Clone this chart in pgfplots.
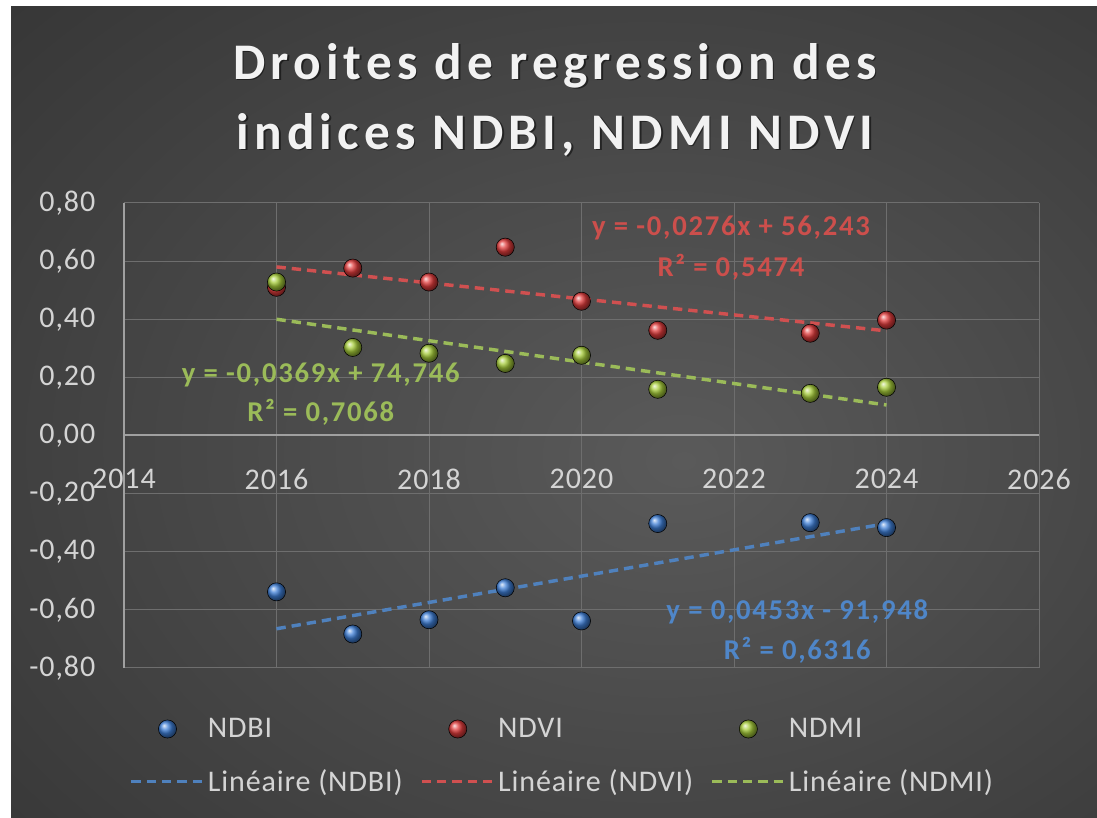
\documentclass[border=0pt]{standalone}
\usepackage{fontspec}
\setmainfont{Carlito}[LetterSpace=3]
\usepackage{pgfplots}
\pgfplotsset{compat=1.18}
\definecolor{bgin}{HTML}{5A5A5A}
\definecolor{bgout}{HTML}{262626}
\definecolor{gridgray}{HTML}{6E6E6E}
\definecolor{axisgray}{HTML}{A0A0A0}
\definecolor{ticktext}{HTML}{D4D4D4}
\definecolor{ndbiball}{HTML}{3F7FD6}
\definecolor{ndviball}{HTML}{E03C3C}
\definecolor{ndmiball}{HTML}{A6CC3A}
\definecolor{ndbiline}{HTML}{4F81BD}
\definecolor{ndviline}{HTML}{D05050}
\definecolor{ndmiline}{HTML}{9BBB59}
\definecolor{ndbitext}{HTML}{4F86C8}
\definecolor{ndvitext}{HTML}{CC4F4C}
\definecolor{ndmitext}{HTML}{9BBB59}
\pgfdeclareradialshading{bgshade}{\pgfpoint{6bp}{-3bp}}{color(0bp)=(bgin); color(58bp)=(bgout); color(90bp)=(bgout)}
\pgfplotsset{
  ballleg/.style={legend image code/.code={\draw[mark repeat=2,mark phase=2,##1] plot coordinates {(0pt,0pt)(27pt,0pt)(54pt,0pt)};}},
  lineleg/.style={legend image code/.code={\draw[##1] (0pt,0pt) -- (54pt,0pt);}},
}
\newcommand\titlefont{\fontsize{38.5}{52.5}\selectfont\bfseries\addfontfeature{LetterSpace=10}}
\newcommand\lblfont{\fontsize{21.5}{24}\selectfont\bfseries\addfontfeature{LetterSpace=6}}
\begin{document}
\begin{tikzpicture}
\path[use as bounding box] (0,0) rectangle (822.75pt,613.5pt);
\fill[white] (0,0) rectangle (822.75pt,613.5pt);
\shade[shading=bgshade] (8.25pt,0) rectangle (822.75pt,608.25pt);
\node[align=center, font=\titlefont, text=black, opacity=0.5] at (417.5pt,537.5pt) {Droites de regression des\\indices NDBI, NDMI NDVI};
\node[align=center, font=\titlefont, text=white!95!black] at (416.25pt,538.5pt) {Droites de regression des\\indices NDBI, NDMI NDVI};
\begin{axis}[
  at={(93pt,112.5pt)}, anchor=south west,
  scale only axis, width=686.25pt, height=348.75pt,
  xmin=2014, xmax=2026, ymin=-0.8, ymax=0.8,
  xtick={2014,2016,2018,2020,2022,2024,2026},
  ytick={-0.8,-0.6,-0.4,-0.2,0,0.2,0.4,0.6,0.8},
  axis x line=middle, axis y line=left,
  hide obscured x ticks=false, hide obscured y ticks=false,
  axis line style={draw=axisgray, line width=1.5pt, -},
  grid=major, major grid style={draw=gridgray, line width=0.75pt},
  major tick length=0pt,
  /pgf/number format/assume math mode=true,
  tick label style={font=\fontsize{22.5}{27}\selectfont, text=ticktext},
  yticklabel style={/pgf/number format/.cd, fixed, fixed zerofill, precision=2, use comma, /tikz/.cd, xshift=-18pt},
  xticklabel style={/pgf/number format/.cd, set thousands separator={}, /tikz/.cd, yshift=-21.5pt},
  legend columns=3,
  legend cell align=left,
  legend style={at={(axis description cs:0.006,-0.102)}, anchor=north west, draw=none, fill=none, inner sep=0pt,
    font=\fontsize{22.5}{27}\selectfont, text=ticktext, row sep=18.5pt,
    /tikz/every odd column/.append style={column sep=0pt},
    /tikz/every even column/.append style={column sep=11pt}},
  clip=false,
]
\addplot[only marks, mark=ball, mark size=6.8pt, ball color=ndbiball, ballleg]
  coordinates {(2016,-0.538) (2017,-0.683) (2018,-0.634) (2019,-0.524) (2020,-0.638) (2021,-0.303) (2023,-0.300) (2024,-0.317)};
\addlegendentry{NDBI}
\addplot[only marks, mark=ball, mark size=6.8pt, ball color=ndviball, ballleg]
  coordinates {(2016,0.510) (2017,0.576) (2018,0.528) (2019,0.648) (2020,0.462) (2021,0.362) (2023,0.352) (2024,0.397)};
\addlegendentry{NDVI}
\addplot[only marks, mark=ball, mark size=6.8pt, ball color=ndmiball, ballleg]
  coordinates {(2016,0.528) (2017,0.303) (2018,0.283) (2019,0.248) (2020,0.276) (2021,0.159) (2023,0.145) (2024,0.166)};
\addlegendentry{NDMI}
\addplot[ndbiline, line width=2.6pt, dash pattern=on 7pt off 4.5pt, lineleg]
  coordinates {(2016,-0.665) (2024,-0.303)};
\addlegendentry{Linéaire (NDBI)}
\addplot[ndviline, line width=2.6pt, dash pattern=on 7pt off 4.5pt, lineleg]
  coordinates {(2016,0.580) (2024,0.360)};
\addlegendentry{Linéaire (NDVI)}
\addplot[ndmiline, line width=2.6pt, dash pattern=on 7pt off 4.5pt, lineleg]
  coordinates {(2016,0.400) (2024,0.105)};
\addlegendentry{Linéaire (NDMI)}
\node[font=\lblfont, text=ndvitext] at (axis cs:2021.96,0.714) {y = -0,0276x + 56,243};
\node[font=\lblfont, text=ndvitext] at (axis cs:2021.96,0.580) {R² = 0,5474};
\node[font=\lblfont, text=ndmitext] at (axis cs:2016.58,0.208) {y = -0,0369x + 74,746};
\node[font=\lblfont, text=ndmitext] at (axis cs:2016.58,0.080) {R² = 0,7068};
\node[font=\lblfont, text=ndbitext] at (axis cs:2022.83,-0.607) {y = 0,0453x - 91,948};
\node[font=\lblfont, text=ndbitext] at (axis cs:2022.83,-0.738) {R² = 0,6316};
\end{axis}
\end{tikzpicture}
\end{document}
